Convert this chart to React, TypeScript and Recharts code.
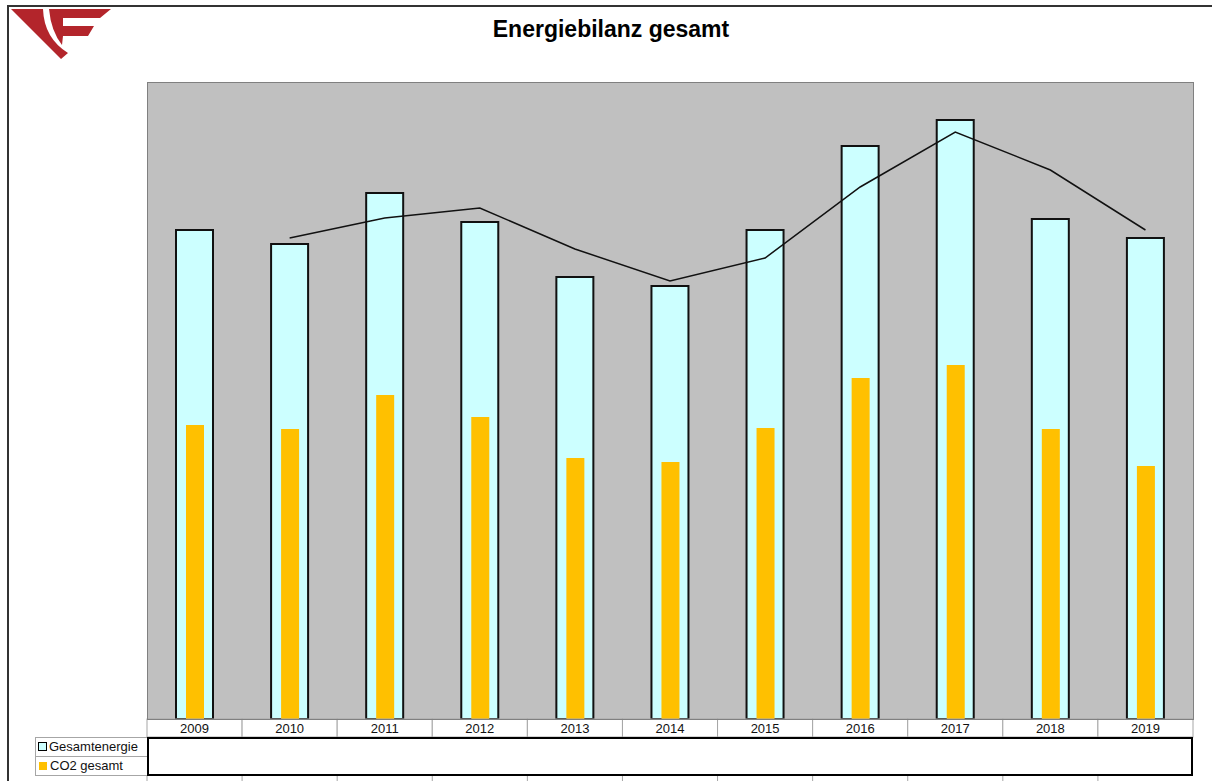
import React from 'react';
import { ComposedChart, Bar, Line, XAxis, YAxis, CartesianGrid } from 'recharts';

// values (no axis shown, relative units)
const years = ['2009', '2010', '2011', '2012', '2013', '2014', '2015', '2016', '2017', '2018', '2019'];
const gesamtenergie = [489, 475, 526, 497, 442, 433, 489, 573, 599, 500, 481];
const co2Gesamt = [294, 290, 324, 302, 261, 257, 291, 341, 354, 290, 253];
const trend = [null, 481, 501, 511, 470, 438, 461, 532, 587, 549, 489];

const data = years.map((y, i) => ({
  year: y,
  gesamt: gesamtenergie[i],
  co2: co2Gesamt[i],
  trend: trend[i],
}));

const W = 1212;
const H = 781;
const PLOT_LEFT = 147;
const PLOT_RIGHT = 1193;
const PLOT_TOP = 82;
const PLOT_BOTTOM = 719;
const CELL_W = (PLOT_RIGHT - PLOT_LEFT) / years.length;
const FONT = 'Arial, "Liberation Sans", sans-serif';

const YearTick = (props: any) => {
  const { x, payload } = props;
  return (
    <g>
      <rect x={x - CELL_W / 2} y={PLOT_BOTTOM} width={CELL_W} height={18} fill="#fff" stroke="#a6a6a6" />
      <text x={x} y={PLOT_BOTTOM + 14} textAnchor="middle" fontSize={13} fontFamily={FONT} fill="#111">
        {payload.value}
      </text>
      <line x1={x - CELL_W / 2} x2={x - CELL_W / 2} y1={776} y2={H} stroke="#a6a6a6" />
    </g>
  );
};

function Logo() {
  return (
    <svg width={120} height={64} style={{ position: 'absolute', left: 0, top: 0 }}>
      <path d="M11,9 L43,9 Q44,38 68,53 L61,59 Z" fill="#b3252b" />
      <path d="M49,9 L111,9 L100,18 L63,18 L63,26 L94,26 L88,36 L63,36 L62,45 Q51,31 49,9 Z" fill="#b3252b" />
    </svg>
  );
}

export default function App() {
  return (
    <div style={{ position: 'absolute', left: 0, top: 0, width: W, height: H, overflow: 'hidden', background: '#fff', fontFamily: FONT }}>
      {/* page frame: only top and left edges are inside the picture */}
      <div style={{ position: 'absolute', left: 7, top: 5, width: W - 7, height: 2, background: '#333' }} />
      <div style={{ position: 'absolute', left: 7, top: 5, width: 2, height: H - 5, background: '#333' }} />
      <Logo />
      <div style={{ position: 'absolute', left: 0, top: 16, width: 1222, textAlign: 'center', fontSize: 23, fontWeight: 'bold', color: '#000' }}>
        Energiebilanz gesamt
      </div>
      <div style={{ position: 'absolute', left: 0, top: 0 }}>
        <ComposedChart
          width={W}
          height={H}
          data={data}
          margin={{ top: PLOT_TOP, right: W - PLOT_RIGHT, bottom: H - PLOT_BOTTOM - 18, left: PLOT_LEFT }}
        >
          <CartesianGrid fill="#c0c0c0" horizontal={false} vertical={false} />
          <XAxis xAxisId="a" dataKey="year" height={18} axisLine={false} tickLine={false} tick={<YearTick />} interval={0} />
          <XAxis xAxisId="b" dataKey="year" hide />
          <YAxis hide domain={[0, PLOT_BOTTOM - PLOT_TOP]} />
          <Bar xAxisId="a" dataKey="gesamt" name="Gesamtenergie" barSize={37} fill="#ccffff" stroke="#111" strokeWidth={2} isAnimationActive={false} />
          <Bar xAxisId="b" dataKey="co2" name="CO2 gesamt" barSize={18} fill="#ffc000" isAnimationActive={false} />
          <Line xAxisId="a" dataKey="trend" type="linear" stroke="#111" strokeWidth={1.5} dot={false} isAnimationActive={false} />
        </ComposedChart>
      </div>
      <div style={{ position: 'absolute', left: PLOT_LEFT, top: PLOT_TOP, width: PLOT_RIGHT - PLOT_LEFT - 1, height: PLOT_BOTTOM - PLOT_TOP - 1, border: '1px solid #808080', pointerEvents: 'none' }} />
      <div style={{ position: 'absolute', left: 35, top: 737, width: 111, height: 18, border: '1px solid #a6a6a6', fontSize: 13, lineHeight: '18px', color: '#111' }}>
        <span style={{ display: 'inline-block', width: 7, height: 7, border: '1px solid #000', background: '#ccffff', margin: '0 2px 0 2px' }} />
        Gesamtenergie
      </div>
      <div style={{ position: 'absolute', left: 35, top: 756, width: 111, height: 19, borderLeft: '1px solid #a6a6a6', borderRight: '1px solid #a6a6a6', borderBottom: '1px solid #a6a6a6', fontSize: 13, lineHeight: '19px', color: '#111' }}>
        <span style={{ display: 'inline-block', width: 8, height: 8, background: '#ffc000', margin: '0 3px 0 3px' }} />
        CO2 gesamt
      </div>
      <div style={{ position: 'absolute', left: PLOT_LEFT, top: 737, width: PLOT_RIGHT - PLOT_LEFT - 4, height: 35, border: '2px solid #000', background: '#fff' }} />
    </div>
  );
}
